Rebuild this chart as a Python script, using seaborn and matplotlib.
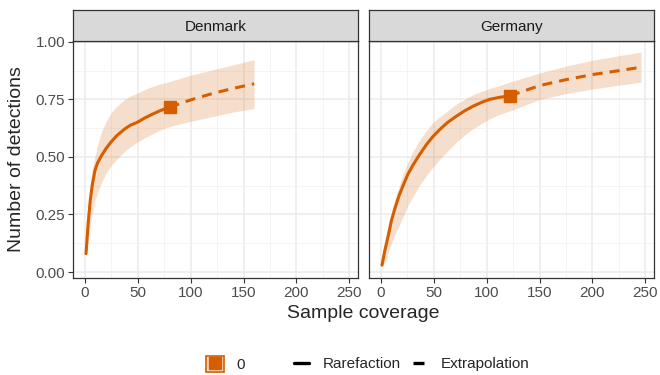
import numpy as np
import pandas as pd
import matplotlib
matplotlib.use("Agg")
import matplotlib.pyplot as plt
import seaborn as sns
from matplotlib.lines import Line2D
from matplotlib.patches import Patch

# --- values (iNEXT-style coverage curves) ---
countries = ["Denmark", "Germany"]

dk_rare_x = [1, 3, 5, 7, 9.4, 12, 15.7, 20, 24.5, 30, 37.7, 43, 49.7, 56, 62.9, 70, 75.5, 80]
dk_rare_y = [0.08, 0.21, 0.31, 0.38, 0.44, 0.475, 0.506, 0.537, 0.564, 0.592, 0.622, 0.638,
             0.651, 0.668, 0.684, 0.699, 0.709, 0.716]
dk_rare_lo = [0.06, 0.13, 0.20, 0.26, 0.31, 0.345, 0.39, 0.43, 0.46, 0.49, 0.525, 0.545,
              0.565, 0.582, 0.598, 0.614, 0.625, 0.632]
dk_rare_hi = [0.10, 0.28, 0.38, 0.45, 0.50, 0.555, 0.61, 0.655, 0.69, 0.72, 0.75, 0.765,
              0.778, 0.792, 0.805, 0.816, 0.822, 0.828]
dk_ext_x = [80, 100, 120, 140, 160]
dk_ext_y = [0.716, 0.748, 0.775, 0.798, 0.818]
dk_ext_lo = [0.632, 0.655, 0.675, 0.695, 0.711]
dk_ext_hi = [0.828, 0.855, 0.878, 0.90, 0.923]
dk_obs = (80, 0.716)

de_rare_x = [1, 4, 7.2, 10, 13.4, 17, 21.3, 25.5, 30.6, 36.5, 43.1, 49, 55.6, 63, 71.3, 79,
             86.9, 95, 102.5, 112, 122]
de_rare_y = [0.03, 0.10, 0.164, 0.225, 0.279, 0.33, 0.38, 0.425, 0.467, 0.51, 0.554, 0.588,
             0.619, 0.65, 0.677, 0.70, 0.72, 0.737, 0.75, 0.759, 0.766]
de_rare_lo = [0.02, 0.045, 0.09, 0.125, 0.165, 0.20, 0.245, 0.29, 0.33, 0.378, 0.42, 0.455,
              0.49, 0.525, 0.565, 0.595, 0.622, 0.645, 0.665, 0.685, 0.70]
de_rare_hi = [0.04, 0.14, 0.21, 0.26, 0.32, 0.37, 0.43, 0.478, 0.525, 0.573, 0.615, 0.648,
              0.675, 0.70, 0.73, 0.75, 0.77, 0.785, 0.797, 0.81, 0.826]
de_ext_x = [122, 150, 175, 200, 225, 246]
de_ext_y = [0.766, 0.81, 0.836, 0.858, 0.875, 0.89]
de_ext_lo = [0.70, 0.75, 0.775, 0.795, 0.812, 0.825]
de_ext_hi = [0.826, 0.865, 0.895, 0.92, 0.94, 0.956]
de_obs = (122, 0.766)

x_ticks = [0, 50, 100, 150, 200, 250]
y_ticks = [0.00, 0.25, 0.50, 0.75, 1.00]
y_labels = ["0.00", "0.25", "0.50", "0.75", "1.00"]

orange = "#D55E00"
dash = (0, (3.3, 2.3))

sns.set_style("white")
plt.rcParams["font.family"] = ["Liberation Sans", "DejaVu Sans"]

def make_df(x, y, lo, hi, method):
    return pd.DataFrame({"x": x, "y": y, "lo": lo, "hi": hi, "method": method})

panels = {
    "Denmark": (make_df(dk_rare_x, dk_rare_y, dk_rare_lo, dk_rare_hi, "Rarefaction"),
                make_df(dk_ext_x, dk_ext_y, dk_ext_lo, dk_ext_hi, "Extrapolation"), dk_obs),
    "Germany": (make_df(de_rare_x, de_rare_y, de_rare_lo, de_rare_hi, "Rarefaction"),
                make_df(de_ext_x, de_ext_y, de_ext_lo, de_ext_hi, "Extrapolation"), de_obs),
}

fig = plt.figure(figsize=(6.6, 3.75), dpi=100)
W, H = 660, 375
ax_l = [73, 369]
ax_w = 285
ax_top, ax_bot = 41, 278
strip_top = 10

for i, name in enumerate(countries):
    ax = fig.add_axes([ax_l[i] / W, (H - ax_bot) / H, ax_w / W, (ax_bot - ax_top) / H])
    rare, ext, obs = panels[name]
    full = pd.concat([rare, ext.iloc[1:]])
    ax.fill_between(full["x"], full["lo"], full["hi"], color=orange, alpha=0.2, lw=0, zorder=2)
    sns.lineplot(data=rare, x="x", y="y", ax=ax, color=orange, lw=2.2, zorder=3, sort=False)
    sns.lineplot(data=ext, x="x", y="y", ax=ax, color=orange, lw=2.2, zorder=3,
                 sort=False, linestyle=dash)
    ax.plot([obs[0]], [obs[1]], marker="s", ms=8.5, color=orange, zorder=4)

    ax.set_xlim(-11.3, 258.3)
    ax.set_ylim(-0.026, 1.004)
    ax.set_xticks(x_ticks)
    ax.set_xticks([25, 75, 125, 175, 225], minor=True)
    ax.set_yticks(y_ticks)
    ax.set_yticks([0.125, 0.375, 0.625, 0.875], minor=True)
    ax.grid(True, which="major", color="#EBEBEB", lw=1.1, zorder=0)
    ax.grid(True, which="minor", color="#F2F2F2", lw=0.6, zorder=0)
    ax.set_axisbelow(True)
    ax.tick_params(axis="both", which="major", length=3.5, width=0.8, color="#333333",
                   labelsize=11, labelcolor="#4D4D4D", pad=2, bottom=True, left=True)
    ax.tick_params(which="minor", length=0)
    if i == 0:
        ax.set_yticklabels(y_labels)
    else:
        ax.tick_params(axis="y", which="major", left=False, labelleft=False)
    ax.set_xlabel("")
    ax.set_ylabel("")
    for sp in ax.spines.values():
        sp.set_color("#333333")
        sp.set_linewidth(0.9)

    # facet strip
    sax = fig.add_axes([ax_l[i] / W, (H - ax_top) / H, ax_w / W, (ax_top - strip_top) / H])
    sax.set_facecolor("#D9D9D9")
    sax.set_xticks([])
    sax.set_yticks([])
    for sp in sax.spines.values():
        sp.set_color("#333333")
        sp.set_linewidth(0.9)
    sax.text(0.5, 0.45, name, ha="center", va="center", fontsize=11, color="#1A1A1A",
             transform=sax.transAxes)

fig.text(363 / W, 1 - 314 / H, "Sample coverage", ha="center", va="center", fontsize=14)
fig.text(17 / W, 1 - 159 / H, "Number of detections", ha="center", va="center",
         rotation=90, fontsize=14)

# two separate legends, like ggplot's colour/shape and linetype guides
key = (Patch(facecolor="#F7D9C4", edgecolor=orange, lw=1.2),
       Line2D([], [], marker="s", ms=8, color=orange, lw=0))
leg1 = fig.legend([key], ["0"], loc="center left", bbox_to_anchor=(206 / W, 1 - 364 / H),
                  frameon=False, fontsize=11, handlelength=1.2, handleheight=1.2,
                  handletextpad=0.8, borderpad=0, borderaxespad=0)
lt_handles = [Line2D([], [], color="black", lw=2.4),
              Line2D([], [], color="black", lw=2.4, linestyle=dash)]
fig.legend(lt_handles, ["Rarefaction", "Extrapolation"], loc="center left",
           bbox_to_anchor=(294 / W, 1 - 364 / H), ncol=2, frameon=False, fontsize=11,
           handlelength=1.0, handletextpad=0.85, columnspacing=0.8, borderpad=0,
           borderaxespad=0)

fig.savefig("out.png", dpi=100)
